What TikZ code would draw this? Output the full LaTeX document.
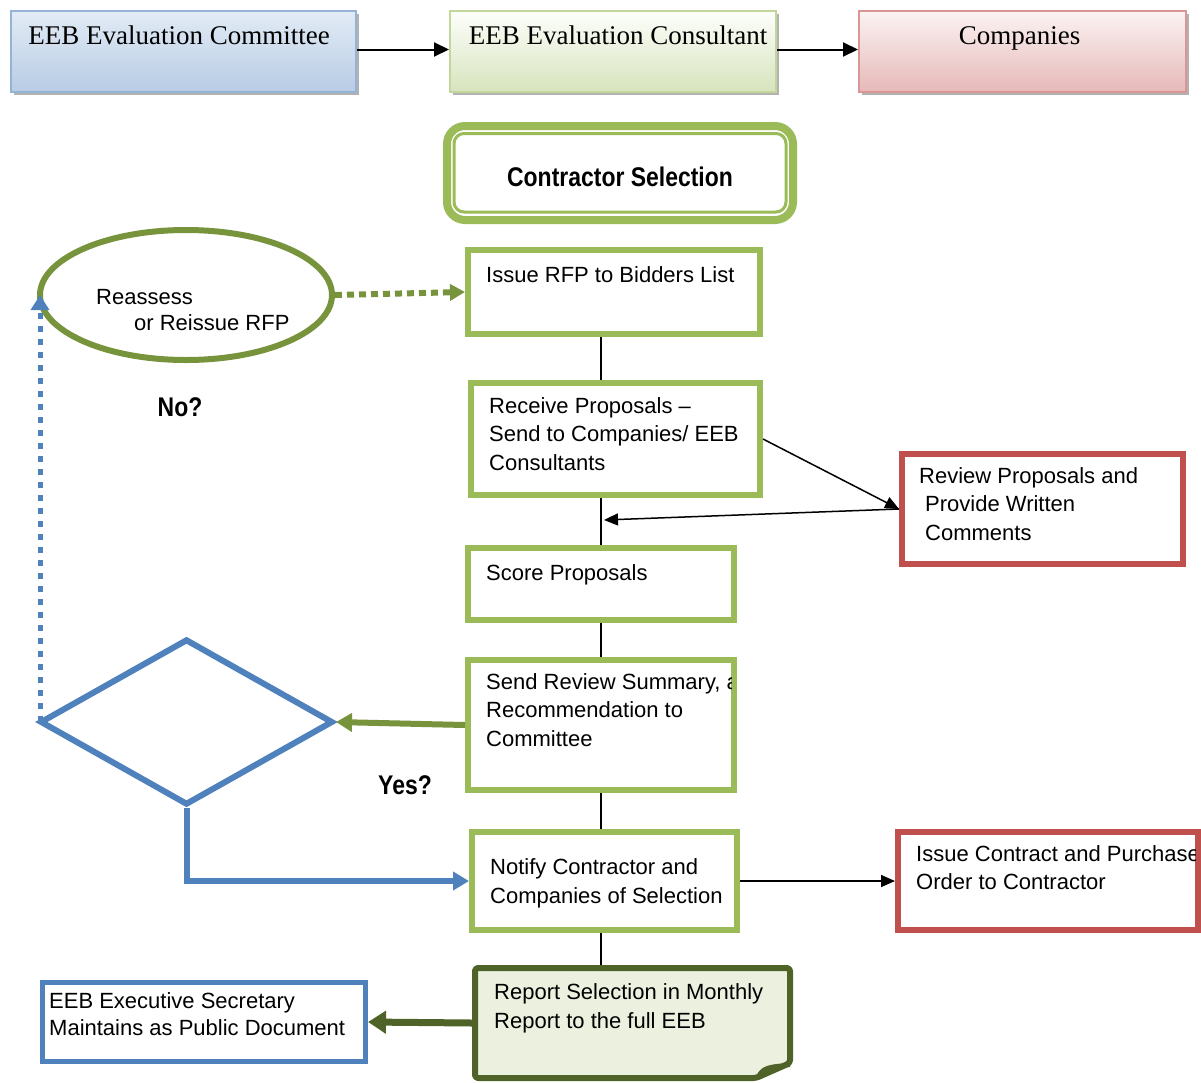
\documentclass[tikz,border=0pt]{standalone}
\usepackage{fontspec}
\setmainfont{Liberation Sans}
\newfontfamily\hdrfont{Liberation Serif}
\newfontfamily\demifont[FakeStretch=0.85]{Liberation Sans Bold}
\usetikzlibrary{arrows.meta,shapes.geometric,backgrounds,shadows}
\definecolor{lg}{HTML}{9BBB59}
\definecolor{og}{HTML}{77933C}
\definecolor{dg}{HTML}{4F6228}
\definecolor{bl}{HTML}{4F81BD}
\definecolor{rd}{HTML}{C0504D}
\definecolor{rfill}{HTML}{EBF1DE}
\definecolor{hbA}{HTML}{95B3D7}\definecolor{htA}{HTML}{E2EBF6}\definecolor{hlA}{HTML}{B8CCE4}
\definecolor{hbB}{HTML}{C3D69B}\definecolor{htB}{HTML}{FDFEFB}\definecolor{hlB}{HTML}{D7E4BD}
\definecolor{hbC}{HTML}{D99694}\definecolor{htC}{HTML}{FBF3F3}\definecolor{hlC}{HTML}{E6B9B8}
\newcommand\bodyfs{\fontsize{22pt}{28.5pt}\selectfont}
\begin{document}
\begin{tikzpicture}[x=1pt,y=-1pt,
  hbox/.style={rectangle, line width=2pt, minimum height=81pt, inner sep=0pt,
     drop shadow={shadow xshift=3pt, shadow yshift=-3pt, fill=gray!60, opacity=1}},
  hdr/.style={font=\hdrfont\fontsize{27pt}{32pt}\selectfont, inner sep=0pt, anchor=base},
  gbox/.style={rectangle, draw=lg, line width=6pt, fill=white, inner sep=0pt},
  rbox/.style={rectangle, draw=rd, line width=6pt, fill=white, inner sep=0pt},
  txt/.style={anchor=north west, inner sep=0pt, align=left, font=\bodyfs},
  lbl/.style={font=\demifont\fontsize{27pt}{30pt}\selectfont, inner sep=0pt},
  conn/.style={line width=1.5pt, -{Triangle[length=14pt,width=12pt]}},
  hconn/.style={line width=2pt, -{Triangle[length=15pt,width=14pt]}}
]
\useasboundingbox (0,0) rectangle (1201,1082);

% header row
\node[hbox, draw=hbA, top color=htA, bottom color=hlA, minimum width=345pt] (h1) at (183.5,51.5) {};
\node[hbox, draw=hbB, top color=htB, bottom color=hlB, minimum width=326pt] (h2) at (613,51.5) {};
\node[hbox, draw=hbC, top color=htC, bottom color=hlC, minimum width=327pt] (h3) at (1022.5,51.5) {};
\node[hdr] (h1t) at (179,44) {EEB Evaluation Committee};
\node[hdr] (h2t) at (618,44) {EEB Evaluation Consultant};
\node[hdr] (h3t) at (1019.5,44) {Companies};
\draw[hconn] ([yshift=2pt]h1.east) -- ([yshift=2pt]h2.west);
\draw[hconn] ([yshift=2pt]h2.east) -- ([yshift=2pt]h3.west);

% title
\node[rectangle, draw=lg, line width=8pt, rounded corners=18pt, minimum width=346pt, minimum height=94pt, inner sep=0pt] (cs) at (620,173) {};
\draw[lg, line width=3pt, rounded corners=10pt] (454,133.5) rectangle (786,212);
\node[lbl] (cst) at (620,177) {Contractor Selection};

% main boxes
\node[gbox, minimum width=292pt, minimum height=84pt] (rfp) at (614,292) {};
\node[txt] (rfpt) at (486,262) {\strut Issue RFP to Bidders List};

\node[gbox, minimum width=289pt, minimum height=112pt] (recv) at (615.5,439) {};
\node[txt] (recvt) at (489,393) {\strut Receive Proposals --\\\strut Send to Companies/ EEB\\\strut Consultants};

\node[gbox, minimum width=266pt, minimum height=72pt] (score) at (601,584) {};
\node[txt] (scoret) at (486,560) {\strut Score Proposals};

\node[gbox, minimum width=266pt, minimum height=130pt] (send) at (601,725) {};
\begin{scope}
\clip (471,663) rectangle (731,787);
\node[txt] (sendt) at (486,669) {\strut Send Review Summary, and\\\strut Recommendation to\\\strut Committee};
\end{scope}

\node[gbox, minimum width=265pt, minimum height=98pt] (notify) at (604.5,881) {};
\node[txt, font=\fontsize{22pt}{29pt}\selectfont] (notifyt) at (490,853.6) {\strut Notify Contractor and\\\strut Companies of Selection};

% report (folded corner)
\node[rectangle, minimum width=315pt, minimum height=110pt, inner sep=0pt, outer sep=3pt] (report) at (632.5,1023) {};
\filldraw[draw=dg, fill=rfill, line width=6pt, rounded corners=3pt, line join=round]
  (475,968) -- (790,968) -- (790,1063) -- (756,1078) -- (475,1078) -- cycle;
\draw[dg, line width=4pt] (758,1077) .. controls (762,1068) and (768,1066) .. (790,1065);
\node[txt, font=\fontsize{22pt}{29pt}\selectfont] (reportt) at (494,978.6) {\strut Report Selection in Monthly\\\strut Report to the full EEB};

% spine
\begin{scope}[on background layer]
\draw[line width=1.5pt] (score.north |- rfp.south) -- (score.north |- report.north);
\end{scope}

% right boxes
\node[rbox, minimum width=281pt, minimum height=110pt] (review) at (1042.5,509) {};
\node[txt] (reviewt) at (919,463) {\strut Review Proposals and\\\strut\hspace*{6pt}Provide Written\\\strut\hspace*{6pt}Comments};

\node[rbox, minimum width=300pt, minimum height=98pt] (contract) at (1048,881) {};
\begin{scope}
\clip (901,835) rectangle (1195,927);
\node[txt] (contractt) at (916,841) {\strut Issue Contract and Purchase\\\strut Order to Contractor};
\end{scope}

\coordinate (ret) at (604,520);
\draw[conn] (recv.east) -- (review.west);
\draw[conn] (review.west) -- (ret);
\draw[conn] (notify.east) -- (contract.west);

% ellipse
\node[ellipse, draw=og, line width=6pt, minimum width=292pt, minimum height=130pt, inner sep=0pt] (ell) at (186,295) {};
\node[txt, font=\fontsize{22pt}{26pt}\selectfont] (ellt) at (96,285.7) {\strut Reassess\\\strut\hspace*{38pt}or Reissue RFP};
\draw[og, line width=6pt, dash pattern=on 7pt off 5pt, -{Triangle[length=15pt,width=16pt]}] (ell.east) -- (rfp.west);

% diamond
\node[diamond, draw=bl, line width=6pt, minimum width=293pt, minimum height=166pt, inner sep=0pt] (dia) at (186.5,722) {};
\draw[og, line width=6pt, -{Triangle[length=16pt,width=18pt]}] (send.west) -- (dia.east);
\draw[bl, line width=6pt, -{Triangle[length=16pt,width=18pt]}] (dia.south) |- (notify.west);
\draw[bl, line width=5pt, dash pattern=on 6pt off 7pt, -{Triangle[length=15pt,width=18pt]}] ([xshift=3pt]dia.west) -- ([xshift=3pt]dia.west |- ell.west);

\node[lbl] (no) at (180,407) {No?};
\node[lbl] (yes) at (405,785) {Yes?};

% secretary
\node[rectangle, draw=bl, line width=5pt, fill=white, inner sep=0pt, minimum width=323pt, minimum height=79pt] (sec) at (204,1022) {};
\node[txt, font=\fontsize{22pt}{27pt}\selectfont] (sect) at (49,989) {\strut EEB Executive Secretary\\\strut Maintains as Public Document};
\draw[dg, line width=7pt, -{Triangle[length=18pt,width=22pt]}] (report.west) -- (sec.east);
\end{tikzpicture}
\end{document}
